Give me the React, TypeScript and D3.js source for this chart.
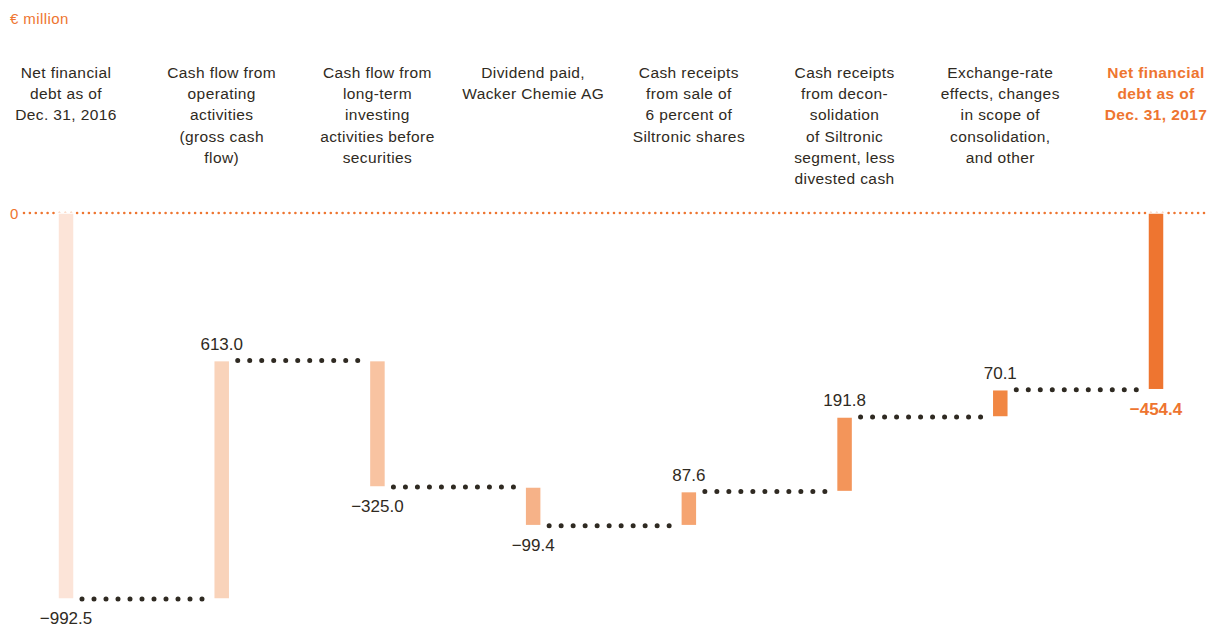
import React from "react";
import * as d3 from "d3";

const categories = [
  ["Net financial", "debt as of", "Dec. 31, 2016"],
  ["Cash flow from", "operating", "activities", "(gross cash", "flow)"],
  ["Cash flow from", "long-term", "investing", "activities before", "securities"],
  ["Dividend paid,", "Wacker Chemie AG"],
  ["Cash receipts", "from sale of", "6 percent of", "Siltronic shares"],
  ["Cash receipts", "from decon-", "solidation", "of Siltronic", "segment, less", "divested cash"],
  ["Exchange-rate", "effects, changes", "in scope of", "consolidation,", "and other"],
  ["Net financial", "debt as of", "Dec. 31, 2017"],
];
const values = [-992.5, 613.0, -325.0, -99.4, 87.6, 191.8, 70.1, -454.4];
const isTotal = [true, false, false, false, false, false, false, true];
const barColors = ["#fce4d8", "#f9d3ba", "#f8c3a1", "#f6b288", "#f5a471", "#f3955a", "#f18743", "#ee7530"];
const unitLabel = "€ million";
const zeroTick = 0;

const W = 1208;
const H = 624;
const ORANGE = "#ee7530";
const DARK = "#2f2a22";
const FONT = "'Liberation Sans', Arial, sans-serif";

export default function App() {
  let cum = 0;
  const segs = values.map((v, i) => {
    let start, end;
    if (isTotal[i]) {
      start = 0;
      end = v;
      cum = v;
    } else {
      start = cum;
      end = cum + v;
      cum = end;
    }
    return { i, v, start, end, lo: Math.min(start, end), hi: Math.max(start, end) };
  });

  const x = d3.scalePoint<number>().domain(d3.range(values.length)).range([66, 1156]);
  const y = d3.scaleLinear().domain([0, -992.5]).range([213, 599]);
  const barW = 16;
  const fmt = (v: number) => d3.format(".1f")(v).replace("-", "\u2212");

  const connectors = segs.slice(0, -1).map((s, k) => {
    const level = s.end;
    const x1 = (x(k) as number) + barW / 2 + 8;
    const x2 = (x(k + 1) as number) - barW / 2 - 4;
    return { x1, x2, y: y(level) };
  });

  return (
    <svg width={W} height={H} style={{ position: "absolute", left: 0, top: 0, background: "#fff" }} fontFamily={FONT}>
      <text x={10} y={24} fill={ORANGE} fontSize={15} letterSpacing={0.4}>{unitLabel}</text>

      {categories.map((lines, i) => (
        <text key={i} x={x(i)} y={78} textAnchor="middle" fontSize={15.5} letterSpacing={0.4}
          fill={i === values.length - 1 ? ORANGE : DARK} fontWeight={i === values.length - 1 ? "bold" : "normal"}>
          {lines.map((l, j) => (
            <tspan key={j} x={x(i)} dy={j === 0 ? 0 : 21.2}>{l}</tspan>
          ))}
        </text>
      ))}

      <text x={10} y={219} fill={ORANGE} fontSize={15}>{zeroTick}</text>
      <line x1={24} x2={W} y1={y(zeroTick)} y2={y(zeroTick)} stroke={ORANGE} strokeWidth={2.6}
        strokeDasharray="0 5.9" strokeLinecap="round" />

      {connectors.map((c, k) => (
        <line key={k} x1={c.x1} x2={c.x2} y1={c.y} y2={c.y} stroke={DARK} strokeWidth={5}
          strokeDasharray="0 12" strokeLinecap="round" />
      ))}

      {segs.map((s) => (
        <rect key={s.i} x={(x(s.i) as number) - barW / 2} width={barW} y={y(s.hi)} height={y(s.lo) - y(s.hi)}
          fill={barColors[s.i]} stroke="#fff" strokeWidth={1.5} />
      ))}

      {segs.map((s) => {
        const pos = s.v > 0;
        const last = s.i === values.length - 1;
        return (
          <text key={s.i} x={x(s.i)} y={pos ? y(s.hi) - 11 : y(s.lo) + 25} textAnchor="middle" fontSize={17}
            fill={last ? ORANGE : DARK} fontWeight={last ? "bold" : "normal"}>
            {fmt(s.v)}
          </text>
        );
      })}
    </svg>
  );
}
